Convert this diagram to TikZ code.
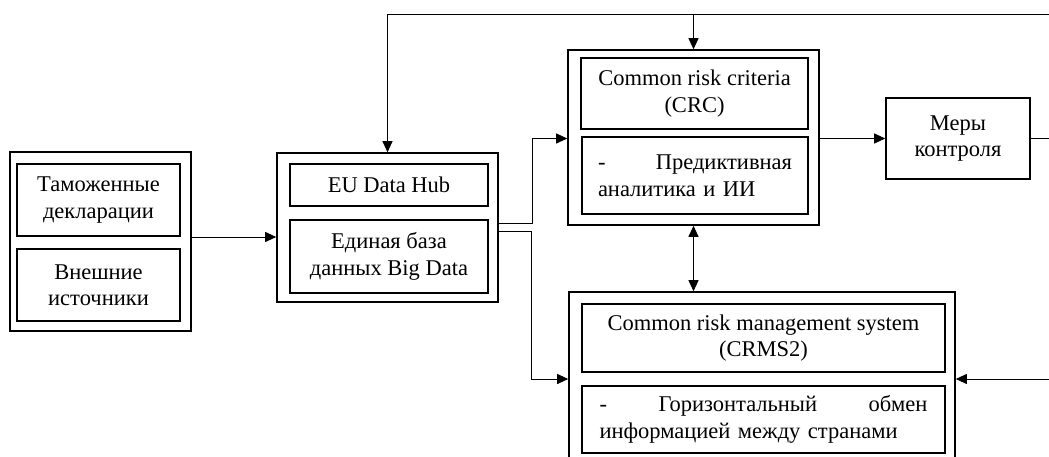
\documentclass[tikz,border=0pt]{standalone}
\usepackage{fontspec}
\setmainfont{Liberation Serif}
\usetikzlibrary{arrows.meta}
\begin{document}
\begin{tikzpicture}[x=1pt,y=-1pt,
  frame/.style={draw,line width=1.6pt,inner sep=0pt},
  ib/.style={draw,line width=1.6pt,inner sep=0pt,align=center,font=\fontsize{22.5}{26.5}\selectfont},
  jb/.style={draw,line width=1.6pt,inner sep=0pt,align=left,font=\fontsize{22.5}{26.5}\selectfont},
  conn/.style={line width=0.9pt,-{Triangle[length=11pt,width=10pt]}},
  dconn/.style={line width=0.9pt,{Triangle[length=11pt,width=10pt]}-{Triangle[length=11pt,width=10pt]}},
  plain/.style={line width=0.9pt},
  ]
\useasboundingbox (0,0) rectangle (1049,457);
\clip (0,0) rectangle (1049,457);
\fill[white] (0,0) rectangle (1049,457);

% left group
\node[frame, minimum width=181pt, minimum height=179pt] (L) at (100.5,241.5) {};
\node[ib, minimum width=163pt, minimum height=72pt] (t1) at (98.5,200) {Таможенные\\декларации};
\node[ib, minimum width=163pt, minimum height=72pt] (t2) at (98.5,285) {Внешние\\источники};

% hub
\node[frame, minimum width=221pt, minimum height=149pt] (hub) at (387.5,227.5) {};
\node[ib, minimum width=198pt, minimum height=42pt] (h1) at (389,185) {EU Data Hub};
\node[ib, minimum width=198pt, minimum height=73pt] (h2) at (389,256.5) {Единая база\\данных Big Data};

% CRC
\node[frame, minimum width=251pt, minimum height=175pt] (crc) at (693.5,137.5) {};
\node[ib, minimum width=227pt, minimum height=71pt] (c1) at (694.5,93.5) {Common risk criteria\\(CRC)};
\node[jb, text width=194pt, minimum width=226pt, minimum height=77pt] (c2) at (695,175.5) {-\hfill Предиктивная\\аналитика и ИИ};

% measures
\node[ib, minimum width=144pt, minimum height=81pt] (mery) at (958,138.5) {Меры\\контроля};

% CRMS
\node[frame, minimum width=386pt, minimum height=178pt] (crms) at (762,381) {};
\node[ib, minimum width=363pt, minimum height=68pt] (r1) at (763.5,338) {Common risk management system\\(CRMS2)};
\node[jb, text width=328pt, minimum width=363pt, minimum height=67pt] (r2) at (763.5,419.5) {-\hfill Горизонтальный\hfill обмен\\информацией между странами};

% connectors
\coordinate (topR) at (1049,14);
\coordinate (meryR) at (1049,138.5);
\coordinate (crmsR) at (1049,379);

\draw[conn] (L.east |- 0,237) -- (hub.west |- 0,237);
\draw[conn] (topR) -| (hub.north);
\draw[conn] (crc.north |- topR) -- (crc.north);
\draw[conn] (hub.east |- 0,223) -- ++(34,0) |- (crc.west |- mery.west);
\draw[conn] (hub.east |- 0,231) -- ++(33,0) |- (crms.west |- crmsR);
\draw[conn] (crc.east |- mery.west) -- (mery.west);
\draw[plain] (mery.east) -- (meryR);
\draw[conn] (crmsR) -- (crms.east |- crmsR);
\draw[dconn] (crc.south) -- (crc.south |- crms.north);
\end{tikzpicture}
\end{document}
